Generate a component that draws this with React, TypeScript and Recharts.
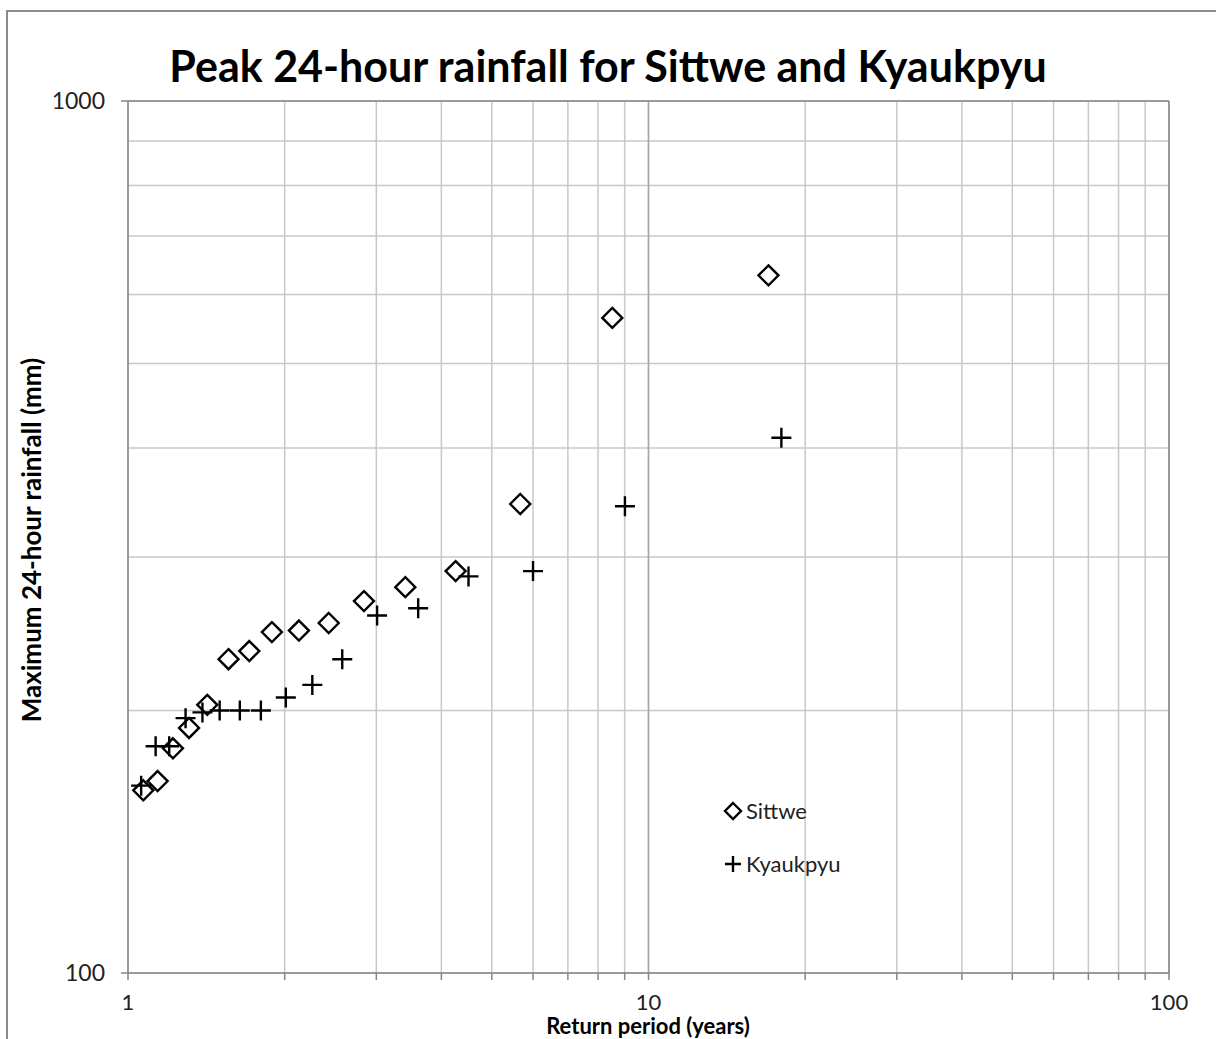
import {
  CartesianGrid,
  ReferenceLine,
  Scatter,
  ScatterChart,
  XAxis,
  YAxis,
} from "recharts";

// return period (years) and peak 24-hour rainfall (mm)
const sittweReturn = [1.07, 1.14, 1.22, 1.31, 1.42, 1.56, 1.71, 1.89, 2.13, 2.43, 2.84, 3.41, 4.26, 5.67, 8.52, 17.0];
const sittweRain = [162, 166, 181, 191, 203, 229, 234, 246, 247, 252, 267, 277, 289, 345, 564, 631];

const kyaukpyuReturn = [1.06, 1.13, 1.2, 1.29, 1.39, 1.5, 1.64, 1.8, 2.01, 2.26, 2.58, 3.01, 3.61, 4.51, 6.0, 9.01, 18.0];
const kyaukpyuRain = [164, 182, 182, 196, 199, 200, 200, 200, 207, 214, 229, 257, 262, 285, 289, 343, 411];

const xTicks = [1, 2, 3, 4, 5, 6, 7, 8, 9, 10, 20, 30, 40, 50, 60, 70, 80, 90, 100];
const yTicks = [100, 200, 300, 400, 500, 600, 700, 800, 900, 1000];
const xLabelled = [1, 10, 100];
const yLabelled = [100, 1000];

const sittwe = sittweReturn.map((x, i) => ({ x, y: sittweRain[i] }));
const kyaukpyu = kyaukpyuReturn.map((x, i) => ({ x, y: kyaukpyuRain[i] }));

const FONT = "Lato, 'Open Sans', sans-serif";
const AXIS = "#868686";
const GRID = "#c8c8c8";

function Diamond({ cx, cy, r = 10 }: { cx: number; cy: number; r?: number }) {
  return (
    <path
      d={`M${cx},${cy - r}L${cx + r},${cy}L${cx},${cy + r}L${cx - r},${cy}Z`}
      fill="none"
      stroke="#000"
      strokeWidth={2.4}
    />
  );
}

function Plus({ cx, cy, r = 10 }: { cx: number; cy: number; r?: number }) {
  return (
    <path
      d={`M${cx - r},${cy}H${cx + r}M${cx},${cy - r}V${cy + r}`}
      fill="none"
      stroke="#000"
      strokeWidth={2.4}
    />
  );
}

function XTick(props: any) {
  const { x, y, payload } = props;
  if (!xLabelled.includes(payload.value)) return <g />;
  return (
    <text x={x} y={y + 28} textAnchor="middle" fontSize={22} fill="#222" fontFamily={FONT}>
      {payload.value}
    </text>
  );
}

function YTick(props: any) {
  const { x, y, payload } = props;
  if (!yLabelled.includes(payload.value)) return <g />;
  // x here is 16px left of the tick end; axis line sits at x + 23
  return (
    <g>
      <line x1={x + 16} x2={x + 23} y1={y} y2={y} stroke={AXIS} strokeWidth={1.5} />
      <text x={x} y={y + 8} textAnchor="end" fontSize={23} fill="#222" fontFamily={FONT}>
        {payload.value}
      </text>
    </g>
  );
}

function LegendBox() {
  return (
    <svg width={150} height={90} style={{ display: "block" }}>
      <Diamond cx={11} cy={16} r={8} />
      <text x={24} y={24} fontSize={22} fill="#222" fontFamily={FONT}>
        Sittwe
      </text>
      <Plus cx={11} cy={69} r={8} />
      <text x={24} y={77} fontSize={22} fill="#222" fontFamily={FONT}>
        Kyaukpyu
      </text>
    </svg>
  );
}

export default function App() {
  return (
    <div
      style={{
        position: "absolute",
        left: 0,
        top: 0,
        width: 1216,
        height: 1039,
        overflow: "hidden",
        background: "#fff",
        fontFamily: FONT,
      }}
    >
      <div
        style={{
          position: "absolute",
          left: 6,
          top: 10,
          width: 1300,
          height: 1100,
          border: "2px solid #8c8c8c",
        }}
      />
      <div
        style={{
          position: "absolute",
          left: 0,
          top: 40,
          width: 1216,
          textAlign: "center",
          fontSize: 43,
          fontWeight: 700,
          color: "#000",
        }}
      >
        Peak 24-hour rainfall for Sittwe and Kyaukpyu
      </div>
      <div
        style={{
          position: "absolute",
          left: 31,
          top: 540,
          transform: "translate(-50%, -50%) rotate(-90deg)",
          whiteSpace: "nowrap",
          fontSize: 26,
          fontWeight: 700,
          color: "#000",
        }}
      >
        Maximum 24-hour rainfall (mm)
      </div>
      <div
        style={{
          position: "absolute",
          left: 648,
          top: 1026,
          transform: "translate(-50%, -50%)",
          whiteSpace: "nowrap",
          fontSize: 22,
          lineHeight: "20px",
          fontWeight: 700,
          color: "#000",
        }}
      >
        Return period (years)
      </div>
      <div style={{ position: "absolute", left: 0, top: 0 }}>
        <ScatterChart width={1216} height={1039} margin={{ top: 101, right: 47, bottom: 0, left: 0 }}>
          <CartesianGrid stroke={GRID} strokeWidth={1.5} />
          <XAxis
            type="number"
            dataKey="x"
            scale="log"
            domain={[1, 100]}
            ticks={xTicks}
            interval={0}
            height={66}
            stroke={AXIS}
            tickSize={7}
            tickMargin={2}
            tick={<XTick />}
            tickLine={{ stroke: AXIS, strokeWidth: 1.5 }}
            axisLine={{ stroke: AXIS, strokeWidth: 1.5 }}
            allowDataOverflow
          />
          <YAxis
            type="number"
            dataKey="y"
            scale="log"
            domain={[100, 1000]}
            ticks={yTicks}
            interval={0}
            width={128}
            tickSize={7}
            tickMargin={16}
            tickLine={false}
            tick={<YTick />}
            axisLine={{ stroke: AXIS, strokeWidth: 1.5 }}
            allowDataOverflow
          />
          <ReferenceLine x={10} stroke="#a6a6a6" strokeWidth={1.5} />
          <ReferenceLine x={100} stroke={AXIS} strokeWidth={1.5} />
          <ReferenceLine y={1000} stroke={AXIS} strokeWidth={1.5} />
          <Scatter
            name="Sittwe"
            data={sittwe}
            isAnimationActive={false}
            shape={(p: any) => <Diamond cx={p.cx} cy={p.cy} />}
          />
          <Scatter
            name="Kyaukpyu"
            data={kyaukpyu}
            isAnimationActive={false}
            shape={(p: any) => <Plus cx={p.cx} cy={p.cy} />}
          />
        </ScatterChart>
      </div>
      <div style={{ position: "absolute", left: 722, top: 795 }}>
        <LegendBox />
      </div>
    </div>
  );
}
